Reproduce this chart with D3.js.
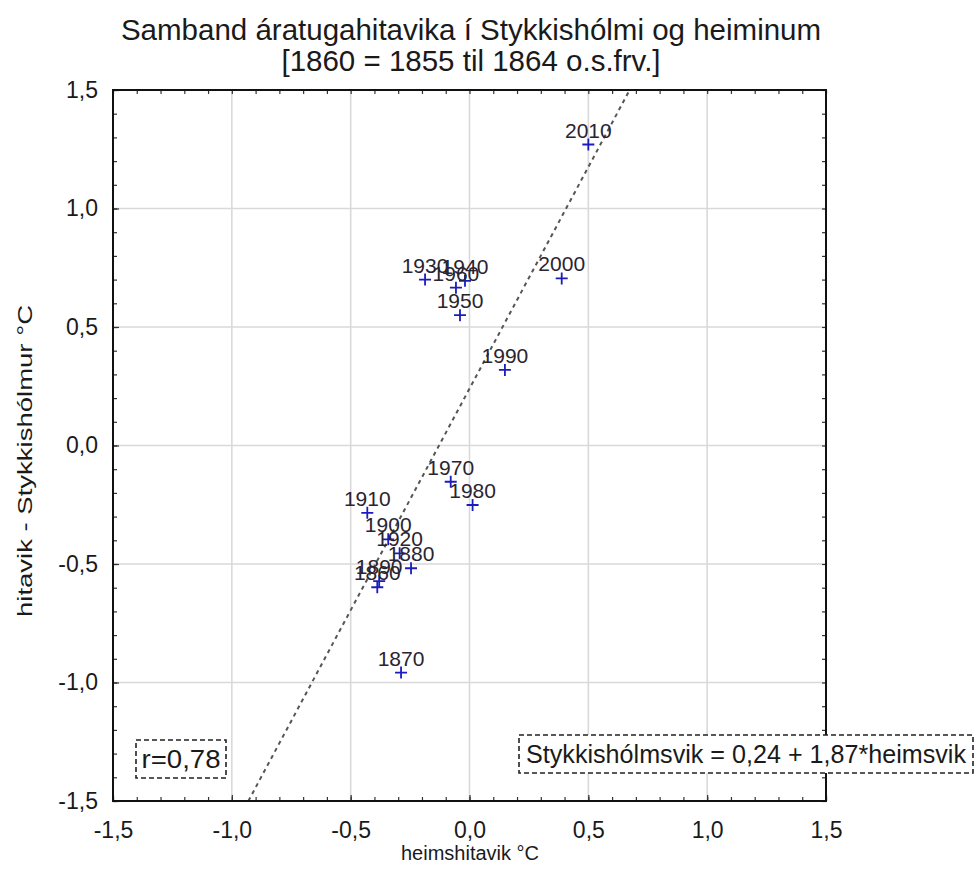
<!DOCTYPE html>
<html>
<head>
<meta charset="utf-8">
<script src="https://cdn.jsdelivr.net/npm/d3@7"></script>
<style>
  html, body { margin: 0; padding: 0; background: #fff; }
  svg { display: block; font-family: "Liberation Sans", Arial, sans-serif; }
</style>
</head>
<body>
<svg id="chart" width="979" height="885"></svg>
<script>
// Decade means (1860 = 1855–1864, etc.)
const decades = ["1860","1870","1880","1890","1900","1910","1920","1930","1940","1950","1960","1970","1980","1990","2000","2010"];
const globalAnom = [-0.388,-0.288,-0.246,-0.380,-0.342,-0.430,-0.294,-0.187,-0.019,-0.040,-0.057,-0.079,0.013,0.149,0.388,0.500];
const stykkAnom  = [-0.598,-0.958,-0.518,-0.572,-0.396,-0.284,-0.455,0.700,0.695,0.550,0.666,-0.153,-0.251,0.319,0.705,1.270];

// Fitted line and correlation
const intercept = 0.24;
const slope = 1.87;
const corrLabel = "r=0,78";
const fitLabel = "Stykkishólmsvik = 0,24 + 1,87*heimsvik";

// Axis ticks
const majorTicks = [-1.5,-1.0,-0.5,0.0,0.5,1.0,1.5];
const tickLabels = ["-1,5","-1,0","-0,5","0,0","0,5","1,0","1,5"];
const titleLines = ["Samband áratugahitavika í Stykkishólmi og heiminum", "[1860 = 1855 til 1864 o.s.frv.]"];
const xTitle = "heimshitavik °C";
const yTitle = "hitavik - Stykkishólmur °C";

const svg = d3.select("#chart");
const pL = 113, pR = 826, pT = 90, pB = 801;
const x = d3.scaleLinear().domain([-1.5, 1.5]).range([pL, pR]);
const y = d3.scaleLinear().domain([-1.5, 1.5]).range([pB, pT]);
const ink = "#1a1a1a";

const points = decades.map((d, i) => ({ label: d, gx: globalAnom[i], sy: stykkAnom[i] }));

// Grid
const grid = svg.append("g").attr("stroke", "#d9d9d9").attr("stroke-width", 1.6);
grid.selectAll("line.vx").data(majorTicks.slice(1, -1)).join("line").attr("class", "vx")
  .attr("x1", d => x(d)).attr("x2", d => x(d)).attr("y1", pT).attr("y2", pB);
grid.selectAll("line.hy").data(majorTicks.slice(1, -1)).join("line").attr("class", "hy")
  .attr("y1", d => y(d)).attr("y2", d => y(d)).attr("x1", pL).attr("x2", pR);

// Axes with inward ticks on all four sides
const minor = d3.range(-15, 16).map(v => v / 10);
const fmt = d => tickLabels[majorTicks.findIndex(t => Math.abs(t - d) < 1e-9)] || "";

function styleAxis(g) {
  g.select(".domain").remove();
  g.attr("font-size", null).attr("font-family", null);
  g.selectAll(".tick line").attr("stroke", "#333").attr("stroke-width", 1.2);
  g.selectAll("text").attr("font-size", 23).attr("fill", ink);
}
svg.append("g").attr("transform", `translate(0,${pB})`)
  .call(d3.axisBottom(x).tickValues(minor).tickSize(-4).tickFormat(""))
  .call(styleAxis);
svg.append("g").attr("transform", `translate(0,${pB})`)
  .call(d3.axisBottom(x).tickValues(majorTicks).tickSize(-6).tickPadding(21).tickFormat(fmt))
  .call(styleAxis);
svg.append("g").attr("transform", `translate(0,${pT})`)
  .call(d3.axisTop(x).tickValues(minor).tickSize(-4).tickFormat(""))
  .call(styleAxis);
svg.append("g").attr("transform", `translate(${pL},0)`)
  .call(d3.axisLeft(y).tickValues(minor).tickSize(-4).tickFormat(""))
  .call(styleAxis);
svg.append("g").attr("transform", `translate(${pL},0)`)
  .call(d3.axisLeft(y).tickValues(majorTicks).tickSize(-6).tickPadding(15).tickFormat(fmt))
  .call(styleAxis);
svg.append("g").attr("transform", `translate(${pR},0)`)
  .call(d3.axisRight(y).tickValues(minor).tickSize(-4).tickFormat(""))
  .call(styleAxis);

// Regression line, clipped to the plot
svg.append("clipPath").attr("id", "plotClip")
  .append("rect").attr("x", pL).attr("y", pT).attr("width", pR - pL).attr("height", pB - pT);
const xAtY = v => (v - intercept) / slope;
svg.append("line")
  .attr("clip-path", "url(#plotClip)")
  .attr("x1", x(xAtY(-1.5))).attr("y1", y(-1.5))
  .attr("x2", x(xAtY(1.5))).attr("y2", y(1.5))
  .attr("stroke", "#555").attr("stroke-width", 2).attr("stroke-dasharray", "4,4");

// Frame
svg.append("rect").attr("x", pL).attr("y", pT).attr("width", pR - pL).attr("height", pB - pT)
  .attr("fill", "none").attr("stroke", "#111").attr("stroke-width", 2);

// Points: plus markers with decade labels
const pts = svg.append("g");
const arm = 6;
pts.selectAll("path.mk").data(points).join("path").attr("class", "mk")
  .attr("d", d => `M${x(d.gx) - arm},${y(d.sy)}H${x(d.gx) + arm}M${x(d.gx)},${y(d.sy) - arm}V${y(d.sy) + arm}`)
  .attr("stroke", "#1c1cbc").attr("stroke-width", 1.8).attr("fill", "none");
pts.selectAll("text.lb").data(points).join("text").attr("class", "lb")
  .attr("x", d => x(d.gx)).attr("y", d => y(d.sy) - 7)
  .attr("text-anchor", "middle").attr("font-size", 21).attr("fill", "#2a2430")
  .text(d => d.label);

// Titles
svg.append("g").selectAll("text").data(titleLines).join("text")
  .attr("x", 471).attr("y", (d, i) => 40 + i * 31)
  .attr("text-anchor", "middle").attr("font-size", 29.5).attr("fill", ink)
  .text(d => d);
svg.append("text").attr("x", 470).attr("y", 860)
  .attr("text-anchor", "middle").attr("font-size", 20).attr("fill", ink).text(xTitle);
svg.append("text").attr("transform", `translate(32,461) rotate(-90)`)
  .attr("text-anchor", "middle").attr("font-size", 21).attr("fill", ink)
  .attr("textLength", 312).attr("lengthAdjust", "spacingAndGlyphs").text(yTitle);

// Annotation boxes
function noteBox(x0, y0, w, h, label, size, len) {
  const g = svg.append("g");
  g.append("rect").attr("x", x0).attr("y", y0).attr("width", w).attr("height", h)
    .attr("fill", "#fff").attr("stroke", "#222").attr("stroke-width", 1.6).attr("stroke-dasharray", "5,3");
  const t = g.append("text").attr("x", x0 + w / 2).attr("y", y0 + h / 2 + size * 0.36)
    .attr("text-anchor", "middle").attr("font-size", size).attr("fill", ink).text(label);
  if (len) t.attr("textLength", len).attr("lengthAdjust", "spacingAndGlyphs");
}
noteBox(136, 740, 90, 38, corrLabel, 25, 79);
noteBox(519, 735, 454, 38, fitLabel, 25, 440);
</script>
</body>
</html>
